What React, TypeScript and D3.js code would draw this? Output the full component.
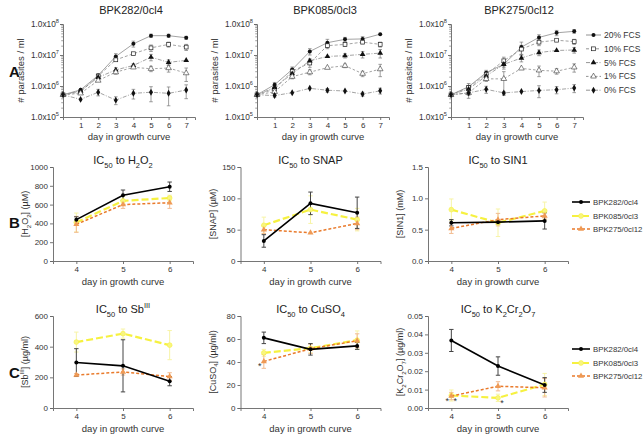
import React, { useEffect, useRef } from "react";
import * as d3 from "d3";

const W = 644;
const H = 438;
const FONT = "'Liberation Sans', Arial, Helvetica, sans-serif";

// ---------- Panel A: growth curves ----------
const growthDays = [0, 1, 2, 3, 4, 5, 6, 7];
const fcsLevels = ["20% FCS", "10% FCS", "5% FCS", "1% FCS", "0% FCS"];
const strainNames = ["BPK282/0cl4", "BPK085/0cl3", "BPK275/0cl12"];
const yTicksA = [1e5, 1e6, 1e7, 1e8];

const growth282 = [
  [5.2e5, 7.5e5, 2.2e6, 9e6, 2.3e7, 4.2e7, 4.2e7, 3.6e7],
  [5.2e5, 6.5e5, 2.1e6, 7e6, 1.1e7, 1.7e7, 2.2e7, 1.8e7],
  [5.2e5, 7e5, 1.9e6, 3.3e6, 4.6e6, 8.5e6, 5.8e6, 6.7e6],
  [5.2e5, 5.8e5, 1.5e6, 2.8e6, 4e6, 3.6e6, 3.8e6, 2.6e6],
  [5.2e5, 3.7e5, 6.3e5, 3.5e5, 5.8e5, 6.3e5, 5.8e5, 7.4e5],
];
const growth282Err = [
  [0, 0, 3e5, 2e6, 5e6, 5e6, 5e6, 4e6],
  [0, 0, 2e5, 0, 0, 4e6, 4e6, 4e6],
  [0, 0, 0, 6e5, 6e5, 2e6, 1.2e6, 0],
  [0, 0, 0, 4e5, 0, 7e5, 1e6, 1.2e6],
  [0, 0, 1.5e5, 1e5, 2e5, 3.2e5, 3.5e5, 3.5e5],
];
const growth085 = [
  [5.2e5, 1.1e6, 3.4e6, 1.3e7, 2.5e7, 3.2e7, 3.3e7, 4.7e7],
  [5.2e5, 8e5, 3e6, 5.5e6, 2e7, 2.2e7, 2.6e7, 2.2e7],
  [5.2e5, 9e5, 2.5e6, 6.5e6, 9e6, 9.5e6, 1.05e7, 1.15e7],
  [5.2e5, 6.5e5, 2e6, 2.8e6, 3.9e6, 4.5e6, 2.5e6, 3.5e6],
  [5.2e5, 4.9e5, 6.1e5, 8.4e5, 7.3e5, 6.9e5, 5.5e5, 7e5],
];
const growth085Err = [
  [0, 2e5, 7e5, 3e6, 7e6, 5e6, 6e6, 0],
  [0, 1e5, 5e5, 1.5e6, 4e6, 3e6, 3e6, 4e6],
  [0, 1e5, 4e5, 1e6, 0, 1.5e6, 2.5e6, 3.5e6],
  [0, 0, 3e5, 5e5, 0, 6e5, 5e5, 1.5e6],
  [0, 5e4, 0, 0, 1e5, 0, 8e4, 1.5e5],
];
const growth275 = [
  [5.2e5, 9.5e5, 2.7e6, 5e6, 1.8e7, 3.7e7, 5.2e7, 5.8e7],
  [5.2e5, 9e5, 2.4e6, 6.5e6, 1.55e7, 2.6e7, 3e7, 2.7e7],
  [5.2e5, 8e5, 2.1e6, 5e6, 8e6, 1.2e7, 1.4e7, 1.45e7],
  [5.2e5, 6e5, 1.7e6, 1.7e6, 3.7e6, 3.2e6, 3e6, 4e6],
  [5.2e5, 6e5, 7.8e5, 6e5, 6.6e5, 7.2e5, 7.6e5, 8.6e5],
];
const growth275Err = [
  [0, 2.5e5, 5e5, 1.5e6, 8e6, 8e6, 1e7, 8e6],
  [0, 1e5, 4e5, 2e6, 5e6, 6e6, 0, 5e6],
  [0, 1e5, 4e5, 1e6, 2e6, 2.5e6, 0, 3e6],
  [0, 1e5, 3e5, 1.2e6, 0, 1.2e6, 6e5, 1.2e6],
  [0, 2e5, 2e5, 5e4, 0, 3e5, 2e5, 2.5e5],
];

// ---------- Panels B & C: IC50 ----------
const icDays = [4, 5, 6];
const icStrains = ["BPK282/0cl4", "BPK085/0cl3", "BPK275/0cl12"];

const h2o2_282 = [440, 700, 790];
const h2o2_282_sd = [30, 55, 50];
const h2o2_085 = [410, 640, 670];
const h2o2_085_sd = [100, 45, 30];
const h2o2_275 = [390, 600, 620];
const h2o2_275_sd = [85, 40, 60];

const snap_282 = [32, 92, 77];
const snap_282_sd = [10, 18, 25];
const snap_085 = [57, 82, 66];
const snap_085_sd = [13, 22, 18];
const snap_275 = [50, 45, 60];
const snap_275_sd = [6, 0, 10];

const sin1_282 = [0.61, 0.62, 0.64];
const sin1_282_sd = [0.05, 0.03, 0.13];
const sin1_085 = [0.82, 0.61, 0.8];
const sin1_085_sd = [0.17, 0.22, 0.14];
const sin1_275 = [0.52, 0.66, 0.72];
const sin1_275_sd = [0.08, 0.1, 0.05];

const sb_282 = [297, 275, 175];
const sb_282_sd = [90, 170, 30];
const sb_085 = [430, 485, 410];
const sb_085_sd = [65, 30, 95];
const sb_275 = [215, 235, 205];
const sb_275_sd = [10, 20, 25];

const cuso4_282 = [61, 51, 54];
const cuso4_282_sd = [5, 5, 3];
const cuso4_085 = [48, 52, 59];
const cuso4_085_sd = [3, 4, 8];
const cuso4_275 = [40.5, 51.5, 58.5];
const cuso4_275_sd = [6, 4, 6];

const k2cr_282 = [0.0367, 0.0228, 0.0125];
const k2cr_282_sd = [0.006, 0.005, 0.004];
const k2cr_085 = [0.0068, 0.0055, 0.0128];
const k2cr_085_sd = [0.003, 0.002, 0.006];
const k2cr_275 = [0.0065, 0.0118, 0.011];
const k2cr_275_sd = [0.002, 0.0025, 0.005];

// significance stars: [day, value, side]
const cuso4Stars = [[4, 37, -1]];
const k2crStars = [[4, 0.0045, -1], [4, 0.0045, 1], [5, 0.0035, 1]];

type Seg = [string, string?];

function rich(sel: any, segs: Seg[], fs: number) {
  let cur = 0;
  for (const [t, k] of segs) {
    const target = k === "sub" ? fs * 0.32 : k === "sup" ? -fs * 0.45 : 0;
    sel
      .append("tspan")
      .attr("dy", target - cur)
      .attr("font-size", k ? fs * 0.68 : fs)
      .text(t);
    cur = target;
  }
}

const AX = "#666";
const TXT = "#333";

function styleAxis(g: any, fs = 8) {
  g.select(".domain").attr("stroke", AX).attr("stroke-width", 0.9);
  g.selectAll(".tick line").attr("stroke", AX).attr("stroke-width", 0.9);
  g.selectAll(".tick text").attr("fill", TXT).attr("font-size", fs).attr("font-family", FONT);
}

function markerA(g: any, idx: number, cx: number, cy: number) {
  if (idx === 0) {
    g.append("circle").attr("cx", cx).attr("cy", cy).attr("r", 2).attr("fill", "#111");
  } else if (idx === 1) {
    g.append("rect").attr("x", cx - 1.9).attr("y", cy - 1.9).attr("width", 3.8).attr("height", 3.8)
      .attr("fill", "#fff").attr("stroke", "#222").attr("stroke-width", 0.7);
  } else if (idx === 2) {
    g.append("path").attr("d", d3.symbol(d3.symbolTriangle, 14)()).attr("transform", `translate(${cx},${cy})`).attr("fill", "#111");
  } else if (idx === 3) {
    g.append("path").attr("d", d3.symbol(d3.symbolTriangle, 14)()).attr("transform", `translate(${cx},${cy})`)
      .attr("fill", "#fff").attr("stroke", "#333").attr("stroke-width", 0.6);
  } else {
    g.append("path").attr("d", d3.symbol(d3.symbolDiamond, 14)()).attr("transform", `translate(${cx},${cy})`).attr("fill", "#111");
  }
}

const dashA = [null, "3,2", "4,1.5,1,1.5", "2.5,2", "4,1.5,1,1.5"];

function drawGrowth(svg: any, col: number, name: string, series: number[][], errs: number[][]) {
  const x0 = 63 + col * 194;
  const x = d3.scaleLinear().domain([0, 7.5]).range([x0, x0 + 7.5 * 17.6]);
  const y = d3.scaleLog().domain([1e5, 1e8]).range([117, 24]);
  const g = svg.append("g");

  // minor ticks
  const minor: number[] = [];
  for (let e = 5; e < 8; e++) for (let m = 2; m < 10; m++) minor.push(m * Math.pow(10, e));
  const gm = g.append("g").attr("transform", `translate(${x0},0)`)
    .call(d3.axisLeft(y).tickValues(minor).tickSize(1.8).tickFormat(() => ""));
  gm.select(".domain").remove();
  gm.selectAll(".tick line").attr("stroke", AX).attr("stroke-width", 0.6);

  const gy = g.append("g").attr("transform", `translate(${x0},0)`)
    .call(d3.axisLeft(y).tickValues(yTicksA).tickSize(3).tickFormat(() => ""));
  styleAxis(gy);
  yTicksA.forEach((v) => {
    const t = g.append("text").attr("x", x0 - 4).attr("y", y(v) + 3).attr("text-anchor", "end")
      .attr("font-family", FONT).attr("font-size", 8.3).attr("fill", TXT);
    rich(t, [["1.0x10"], [String(Math.round(Math.log10(v))), "sup"]], 8.3);
  });

  const gx = g.append("g").attr("transform", `translate(0,117)`)
    .call(d3.axisBottom(x).tickValues([1, 2, 3, 4, 5, 6, 7]).tickSize(3).tickFormat(d3.format("d")).tickPadding(2));
  styleAxis(gx, 8);

  // titles
  g.append("text").attr("x", x0 + 68).attr("y", 14).attr("text-anchor", "middle")
    .attr("font-family", FONT).attr("font-size", 11).attr("fill", "#222").text(name);
  g.append("text").attr("x", x0 + 66).attr("y", 140).attr("text-anchor", "middle")
    .attr("font-family", FONT).attr("font-size", 9.5).attr("fill", TXT).text("day in growth curve");
  g.append("text").attr("transform", `translate(${x0 - 39},70.5) rotate(-90)`).attr("text-anchor", "middle")
    .attr("font-family", FONT).attr("font-size", 9.5).attr("fill", TXT).text("# parasites / ml");

  const line = d3.line<number>().x((d, i) => x(growthDays[i])).y((d) => y(d));
  series.forEach((s, si) => {
    g.append("path").attr("d", line(s)).attr("fill", "none").attr("stroke", "#8c8c8c").attr("stroke-width", 0.8)
      .attr("stroke-dasharray", dashA[si]);
  });
  series.forEach((s, si) => {
    s.forEach((v, i) => {
      const e = errs[si][i];
      if (!e) return;
      const cx = x(growthDays[i]);
      const lo = y(Math.max(v - e, 1.01e5));
      const hi = y(v + e);
      g.append("line").attr("x1", cx).attr("x2", cx).attr("y1", lo).attr("y2", hi).attr("stroke", "#777").attr("stroke-width", 0.7);
      [lo, hi].forEach((yy) =>
        g.append("line").attr("x1", cx - 1.8).attr("x2", cx + 1.8).attr("y1", yy).attr("y2", yy).attr("stroke", "#777").attr("stroke-width", 0.7));
    });
  });
  series.forEach((s, si) => {
    s.forEach((v, i) => markerA(g, si, x(growthDays[i]), y(v)));
  });
}

function drawLegendA(svg: any) {
  const g = svg.append("g");
  fcsLevels.forEach((lab, i) => {
    const yy = 35 + i * 13.8;
    g.append("line").attr("x1", 586).attr("x2", 601).attr("y1", yy).attr("y2", yy)
      .attr("stroke", "#777").attr("stroke-width", 0.8).attr("stroke-dasharray", dashA[i]);
    markerA(g, i, 593.5, yy);
    g.append("text").attr("x", 604).attr("y", yy + 3).attr("font-family", FONT).attr("font-size", 8.5)
      .attr("fill", TXT).text(lab);
  });
}

const icStyles = [
  { stroke: "#000", width: 1.6, dash: null, err: "#444", fill: "#000", shape: "circle" },
  { stroke: "#f6f140", width: 2.2, dash: "7,3", err: "#f7f4a6", fill: "#f8f580", shape: "circle" },
  { stroke: "#e97a2b", width: 1.5, dash: "3,2", err: "#f2bb90", fill: "#ef9a55", shape: "tri" },
];
const drawOrder = [1, 2, 0];

function markerIC(g: any, si: number, cx: number, cy: number) {
  const st = icStyles[si];
  if (st.shape === "circle") {
    g.append("circle").attr("cx", cx).attr("cy", cy).attr("r", si === 0 ? 2 : 2.4).attr("fill", st.fill)
      .attr("stroke", si === 0 ? "none" : st.stroke).attr("stroke-width", 0.6);
  } else {
    g.append("path").attr("d", d3.symbol(d3.symbolTriangle, 16)()).attr("transform", `translate(${cx},${cy})`)
      .attr("fill", st.fill);
  }
}

function drawIC(svg: any, col: number, row: number, cfg: any) {
  const x0 = 53 + col * 187.5;
  const [yTop, yBot] = row === 0 ? [167, 261] : [316, 408];
  const x = d3.scaleLinear().domain([3.5, 6.5]).range([x0, x0 + 140]);
  const y = d3.scaleLinear().domain([0, cfg.max]).range([yBot, yTop]);
  const g = svg.append("g");

  const gy = g.append("g").attr("transform", `translate(${x0},0)`)
    .call(d3.axisLeft(y).tickValues(cfg.ticks).tickSize(3).tickFormat(cfg.fmt).tickPadding(2));
  styleAxis(gy, 8);
  const gx = g.append("g").attr("transform", `translate(0,${yBot})`)
    .call(d3.axisBottom(x).tickValues(icDays).tickSize(3).tickFormat(d3.format("d")).tickPadding(2));
  styleAxis(gx, 8);

  const t = g.append("text").attr("x", x0 + 70).attr("y", yTop - 3).attr("text-anchor", "middle")
    .attr("font-family", FONT).attr("font-size", 11).attr("fill", "#222");
  rich(t, cfg.title, 11);
  g.append("text").attr("x", x0 + 70).attr("y", yBot + 24).attr("text-anchor", "middle")
    .attr("font-family", FONT).attr("font-size", 9.5).attr("fill", TXT).text("day in growth curve");
  const yl = g.append("text").attr("transform", `translate(${x0 - 25},${(yTop + yBot) / 2}) rotate(-90)`)
    .attr("text-anchor", "middle").attr("font-family", FONT).attr("font-size", 9).attr("fill", TXT);
  rich(yl, cfg.ylabel, 9);

  const line = d3.line<number>().x((d, i) => x(icDays[i])).y((d) => y(d));
  drawOrder.forEach((si) => {
    const vals = cfg.data[si];
    const sds = cfg.sd[si];
    const st = icStyles[si];
    vals.forEach((v: number, i: number) => {
      const e = sds[i];
      if (!e) return;
      const cx = x(icDays[i]);
      const lo = y(Math.max(0, v - e));
      const hi = y(v + e);
      g.append("line").attr("x1", cx).attr("x2", cx).attr("y1", lo).attr("y2", hi).attr("stroke", st.err).attr("stroke-width", 1);
      [lo, hi].forEach((yy) =>
        g.append("line").attr("x1", cx - 2.2).attr("x2", cx + 2.2).attr("y1", yy).attr("y2", yy).attr("stroke", st.err).attr("stroke-width", 1));
    });
  });
  drawOrder.forEach((si) => {
    const st = icStyles[si];
    g.append("path").attr("d", line(cfg.data[si])).attr("fill", "none").attr("stroke", st.stroke)
      .attr("stroke-width", st.width).attr("stroke-dasharray", st.dash);
    cfg.data[si].forEach((v: number, i: number) => markerIC(g, si, x(icDays[i]), y(v)));
  });
  (cfg.stars || []).forEach(([d, v, side]: number[]) => {
    g.append("text").attr("x", x(d) + side * 4).attr("y", y(v) + 4).attr("text-anchor", "middle")
      .attr("font-family", FONT).attr("font-size", 9).attr("fill", "#333").text("*");
  });
}

function drawLegendIC(svg: any, rows: number[]) {
  const g = svg.append("g");
  icStrains.forEach((lab, si) => {
    const yy = rows[si];
    const st = icStyles[si];
    g.append("line").attr("x1", 572).attr("x2", 590).attr("y1", yy).attr("y2", yy).attr("stroke", st.stroke)
      .attr("stroke-width", st.width).attr("stroke-dasharray", st.dash);
    markerIC(g, si, 581, yy);
    g.append("text").attr("x", 593).attr("y", yy + 3).attr("font-family", FONT).attr("font-size", 7.8)
      .attr("fill", TXT).text(lab);
  });
}

export default function App() {
  const ref = useRef<SVGSVGElement>(null);
  useEffect(() => {
    const svg = d3.select(ref.current);
    svg.selectAll("*").remove();
    svg.append("rect").attr("width", W).attr("height", H).attr("fill", "#fff");

    drawGrowth(svg, 0, strainNames[0], growth282, growth282Err);
    drawGrowth(svg, 1, strainNames[1], growth085, growth085Err);
    drawGrowth(svg, 2, strainNames[2], growth275, growth275Err);
    drawLegendA(svg);

    const fmt0 = d3.format("d");
    drawIC(svg, 0, 0, {
      max: 1000, ticks: d3.range(0, 1001, 200), fmt: fmt0,
      title: [["IC"], ["50", "sub"], [" to H"], ["2", "sub"], ["O"], ["2", "sub"]],
      ylabel: [["[H"], ["2", "sub"], ["O"], ["2", "sub"], ["] (µM)"]],
      data: [h2o2_282, h2o2_085, h2o2_275], sd: [h2o2_282_sd, h2o2_085_sd, h2o2_275_sd],
    });
    drawIC(svg, 1, 0, {
      max: 150, ticks: [0, 50, 100, 150], fmt: fmt0,
      title: [["IC"], ["50", "sub"], [" to SNAP"]],
      ylabel: [["[SNAP] (µM)"]],
      data: [snap_282, snap_085, snap_275], sd: [snap_282_sd, snap_085_sd, snap_275_sd],
    });
    drawIC(svg, 2, 0, {
      max: 1.5, ticks: [0, 0.5, 1, 1.5], fmt: d3.format(".1f"),
      title: [["IC"], ["50", "sub"], [" to SIN1"]],
      ylabel: [["[SIN1] (mM)"]],
      data: [sin1_282, sin1_085, sin1_275], sd: [sin1_282_sd, sin1_085_sd, sin1_275_sd],
    });
    drawIC(svg, 0, 1, {
      max: 600, ticks: [0, 200, 400, 600], fmt: fmt0,
      title: [["IC"], ["50", "sub"], [" to Sb"], ["III", "sup"]],
      ylabel: [["[Sb"], ["III", "sup"], ["] (µg/ml)"]],
      data: [sb_282, sb_085, sb_275], sd: [sb_282_sd, sb_085_sd, sb_275_sd],
    });
    drawIC(svg, 1, 1, {
      max: 80, ticks: [0, 20, 40, 60, 80], fmt: fmt0,
      title: [["IC"], ["50", "sub"], [" to CuSO"], ["4", "sub"]],
      ylabel: [["[CuSO"], ["4", "sub"], ["] (µg/ml)"]],
      data: [cuso4_282, cuso4_085, cuso4_275], sd: [cuso4_282_sd, cuso4_085_sd, cuso4_275_sd],
      stars: cuso4Stars,
    });
    drawIC(svg, 2, 1, {
      max: 0.05, ticks: [0, 0.01, 0.02, 0.03, 0.04, 0.05], fmt: d3.format(".2f"),
      title: [["IC"], ["50", "sub"], [" to K"], ["2", "sub"], ["Cr"], ["2", "sub"], ["O"], ["7", "sub"]],
      ylabel: [["[K"], ["2", "sub"], ["Cr"], ["2", "sub"], ["O"], ["7", "sub"], ["] (µg/ml)"]],
      data: [k2cr_282, k2cr_085, k2cr_275], sd: [k2cr_282_sd, k2cr_085_sd, k2cr_275_sd],
      stars: k2crStars,
    });
    drawLegendIC(svg, [202, 216, 229]);
    drawLegendIC(svg, [349, 363, 376]);

    const letters: [string, number][] = [["A", 77], ["B", 228], ["C", 378]];
    letters.forEach(([l, yy]) =>
      svg.append("text").attr("x", 9).attr("y", yy).attr("font-family", FONT).attr("font-size", 15)
        .attr("font-weight", "bold").attr("fill", "#111").text(l));
  }, []);
  return (
    <svg ref={ref} width={W} height={H} style={{ position: "absolute", left: 0, top: 0, display: "block" }} />
  );
}
